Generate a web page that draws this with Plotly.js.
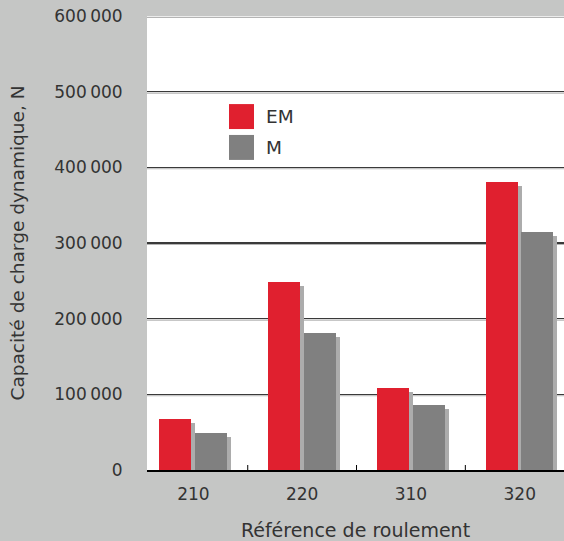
<!DOCTYPE html>
<html>
<head>
<meta charset="utf-8">
<script src="https://cdn.plot.ly/plotly-3.0.1.min.js"></script>
<style>html,body{margin:0;padding:0;background:#c5c6c5;}#chart{width:564px;height:541px;}</style>
</head>
<body>
<div id="chart"></div>
<script>
// ---- data ----
const categories = ['210', '220', '310', '320'];
const seriesNames = ['EM', 'M'];
const emValues = [67500, 249000, 109000, 380000];
const mValues = [49000, 181500, 86000, 315000];
const yTickVals = [0, 100000, 200000, 300000, 400000, 500000, 600000];
const yTickText = ['0', '100\u2009000', '200\u2009000', '300\u2009000', '400\u2009000', '500\u2009000', '600\u2009000'];
const xTitle = 'Référence de roulement';
const yTitle = 'Capacité de charge dynamique, N';

// ---- style ----
const RED = '#e0202f', GRAY = '#808080', SHADOW = '#acacac';
const FONT = '"DejaVu Sans", sans-serif';
const TXT = '#333333';
const yMax = 600000, plotH = 454;
const shadowDrop = 4 * yMax / plotH;   // 4 px expressed in axis units
const barW = 0.294, emOff = -0.313, mOff = 0.015, sh = 0.037;

const xIdx = categories.map((c, i) => i);
function bar(vals, color, off, name) {
  return {type: 'bar', x: xIdx, y: vals, width: barW, offset: off,
    marker: {color: color, line: {width: 0}}, name: name, showlegend: false, hoverinfo: 'skip'};
}
const traces = [
  bar(emValues.map(v => v - shadowDrop), SHADOW, emOff + sh, 'EM shadow'),
  bar(mValues.map(v => v - shadowDrop), SHADOW, mOff + sh, 'M shadow'),
  bar(emValues, RED, emOff, seriesNames[0]),
  bar(mValues, GRAY, mOff, seriesNames[1])
];

// light line just under each dark gridline
const shapes = yTickVals.filter(v => v > 0).map(v => ({
  type: 'line', layer: 'below', xref: 'paper', x0: 0, x1: 1,
  yref: 'y', ysizemode: 'pixel', yanchor: v, y0: -1.4, y1: -1.4,
  line: {color: '#b4b4b4', width: 1.2}
}));
// custom legend
const legColors = [RED, GRAY];
const legY = [[0.806, 0.751], [0.738, 0.683]];
seriesNames.forEach((n, i) => {
  shapes.push({type: 'rect', xref: 'paper', yref: 'paper', x0: 0.1966, x1: 0.2566,
    y0: legY[i][1], y1: legY[i][0], fillcolor: legColors[i], line: {width: 0}});
});
const annotations = seriesNames.map((n, i) => ({
  xref: 'paper', yref: 'paper', x: 0.281, y: (legY[i][0] + legY[i][1]) / 2,
  xanchor: 'left', yanchor: 'middle', text: n, showarrow: false,
  font: {family: FONT, size: 18.5, color: TXT}
}));
// minor ticks at category boundaries
xIdx.slice(0, -1).forEach(i => {
  shapes.push({type: 'line', xref: 'x', x0: i + 0.5, x1: i + 0.5, yref: 'y', ysizemode: 'pixel',
    yanchor: 0, y0: 0, y1: 5, line: {color: '#000', width: 1}});
});

const layout = {
  width: 564, height: 541,
  margin: {l: 147, r: 0, t: 16, b: 71},
  paper_bgcolor: '#c5c6c5', plot_bgcolor: '#ffffff',
  barmode: 'overlay', bargap: 0,
  font: {family: FONT, size: 17, color: TXT},
  showlegend: false,
  xaxis: {
    range: [-0.426, 3.407], tickmode: 'array', tickvals: xIdx, ticktext: categories,
    showgrid: false, zeroline: false, showline: true, linecolor: '#000', linewidth: 1.5,
    layer: 'below traces',
    title: {text: xTitle, font: {family: FONT, size: 19, color: TXT}, standoff: 21},
    tickfont: {family: FONT, size: 17, color: TXT},
    ticks: '', ticklabelstandoff: 8
  },
  yaxis: {
    range: [0, yMax], tickmode: 'array', tickvals: yTickVals, ticktext: yTickText,
    showgrid: true, gridcolor: '#3a3a3a', gridwidth: 1.3, zeroline: false, showline: false,
    ticks: 'outside', ticklen: 20, tickcolor: 'rgba(0,0,0,0)',
    tickfont: {family: FONT, size: 17, color: TXT},
    title: {text: yTitle, font: {family: FONT, size: 18.5, color: TXT}, standoff: 24}
  },
  shapes: shapes,
  annotations: annotations
};

Plotly.newPlot('chart', traces, layout, {displayModeBar: false, staticPlot: true});
</script>
</body>
</html>
